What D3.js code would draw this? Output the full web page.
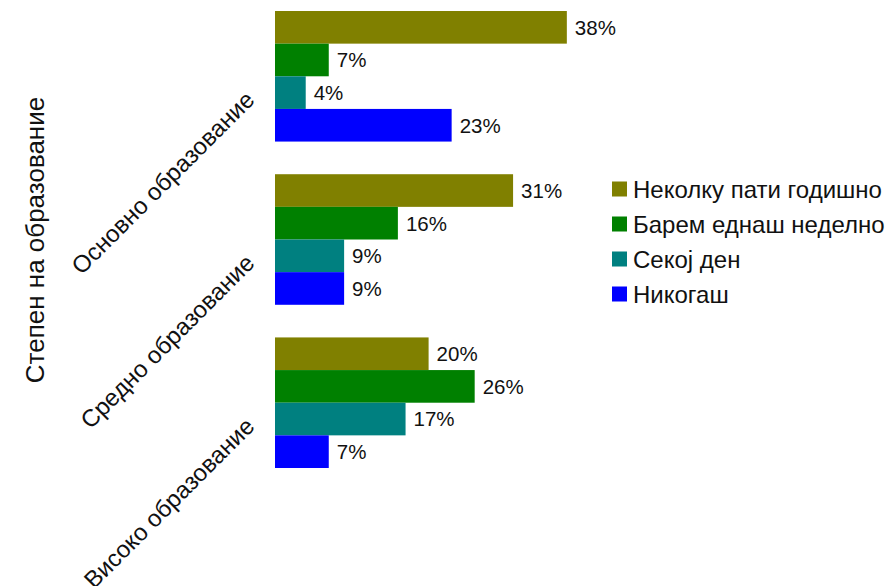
<!DOCTYPE html>
<html>
  <head>
    <meta charset="utf-8">
    <script src="https://d3js.org/d3.v7.min.js"></script>
    <style>
      body { margin: 0; background: #fff; }
      svg text { font-family: Arial, "Liberation Sans", sans-serif; fill: #111; }
    </style>
  </head>
  <body>
    <svg id="chart" width="888" height="586"></svg>
    <script>
      // data
      var categories = ["Основно образование", "Средно образование", "Високо образование"];
      var seriesNames = ["Неколку пати годишно", "Барем еднаш неделно", "Секој ден", "Никогаш"];
      var colors = ["#808000", "#008000", "#008080", "#0000ff"];
      var fewTimesYear = [0.38, 0.31, 0.20];
      var onceWeek = [0.07, 0.16, 0.26];
      var everyDay = [0.04, 0.09, 0.17];
      var never = [0.23, 0.09, 0.07];
      var series = [fewTimesYear, onceWeek, everyDay, never];
      var axisTitle = "Степен на образование";

      var svg = d3.select("#chart");

      var x = d3.scaleLinear().domain([0, 1]).range([275, 275 + 768]);
      var y0 = d3.scaleBand().domain(categories).range([11, 468]).paddingInner(0.2);
      var y1 = d3.scaleBand().domain(d3.range(series.length)).range([0, y0.bandwidth()]);

      var rows = [];
      categories.forEach(function(c, ci) {
        series.forEach(function(s, si) {
          rows.push({cat: c, si: si, v: s[ci]});
        });
      });

      svg.append("g").selectAll("rect")
        .data(rows).enter().append("rect")
        .attr("x", x(0))
        .attr("y", function(d) { return y0(d.cat) + y1(d.si); })
        .attr("width", function(d) { return x(d.v) - x(0); })
        .attr("height", y1.bandwidth())
        .attr("fill", function(d) { return colors[d.si]; });

      svg.append("g").selectAll("text")
        .data(rows).enter().append("text")
        .attr("x", function(d) { return x(d.v) + 8; })
        .attr("y", function(d) { return y0(d.cat) + y1(d.si) + y1.bandwidth() / 2; })
        .attr("dy", "0.36em")
        .style("font-size", "20.5px")
        .text(function(d) { return Math.round(d.v * 100) + "%"; });

      // category labels, rotated
      svg.append("g").selectAll("text")
        .data(categories).enter().append("text")
        .attr("text-anchor", "end")
        .attr("transform", function(d) {
          return "translate(256," + (y0(d) + y0.bandwidth() / 2 + 25) + ") rotate(-45)";
        })
        .style("font-size", "24px")
        .text(function(d) { return d; });

      svg.append("text")
        .attr("text-anchor", "middle")
        .attr("transform", "translate(44,240) rotate(-90)")
        .style("font-size", "26px")
        .text(axisTitle);

      // legend
      var legend = svg.append("g").selectAll("g")
        .data(seriesNames).enter().append("g")
        .attr("transform", function(d, i) { return "translate(612," + (189 + i * 35) + ")"; });
      legend.append("rect")
        .attr("y", -7.5).attr("width", 15).attr("height", 15)
        .attr("fill", function(d, i) { return colors[i]; });
      legend.append("text")
        .attr("x", 21).attr("dy", "0.36em")
        .style("font-size", "24px")
        .text(function(d) { return d; });
    </script>
  </body>
</html>
